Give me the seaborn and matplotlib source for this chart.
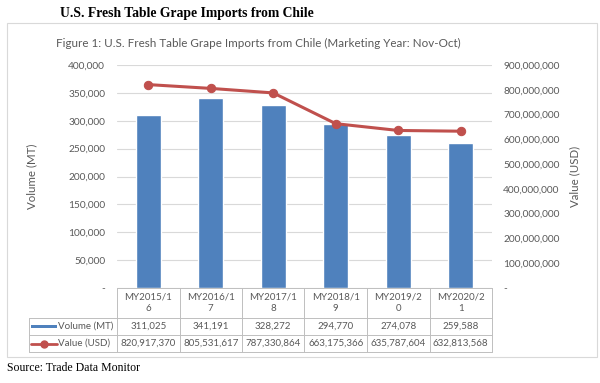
import matplotlib
matplotlib.use("Agg")
import matplotlib.pyplot as plt
import seaborn as sns
import numpy as np
import pandas as pd
from matplotlib.patches import Rectangle
from matplotlib.lines import Line2D
from matplotlib.ticker import FuncFormatter, MultipleLocator

categories = ["MY2015/16", "MY2016/17", "MY2017/18", "MY2018/19", "MY2019/20", "MY2020/21"]
volume_mt = [311025, 341191, 328272, 294770, 274078, 259588]
value_usd = [820917370, 805531617, 787330864, 663175366, 635787604, 632813568]
series_names = ["Volume (MT)", "Value (USD)"]

sns.set_theme(style="white")
plt.rcParams["font.family"] = ["Lato", "DejaVu Sans"]

W, H = 600, 383
fig = plt.figure(figsize=(6.0, 3.83), dpi=100)
fig.patch.set_facecolor("white")

def fx(x):
    return x / W

def fy(y):
    return 1 - y / H

BLUE = "#4F81BD"
RED = "#C0504D"
TXT = "#595959"
GRID = "#D9D9D9"
BORDER = "#BFBFBF"
TFS = 7.0

# chart box
fig.add_artist(Rectangle((fx(7), fy(357)), fx(597) - fx(7), fy(23) - fy(357),
                         transform=fig.transFigure, fill=False, edgecolor="#D9D9D9", lw=0.8))

# plot area
L, R, T, B = 117, 492, 65, 288
ax = fig.add_axes([fx(L), fy(B), fx(R) - fx(L), fy(T) - fy(B)])
df = pd.DataFrame({"cat": categories, "vol": volume_mt, "val": value_usd})
sns.barplot(data=df, x="cat", y="vol", color=BLUE, saturation=1, width=0.4, ax=ax)
ax.set_ylim(0, 400000)
ax.set_xlim(-0.5, len(categories) - 0.5)
ax.yaxis.set_major_locator(MultipleLocator(50000))
ax.yaxis.set_major_formatter(FuncFormatter(lambda v, p: "-" if v == 0 else f"{int(v):,}"))
ax.grid(axis="y", color=GRID, lw=0.8)
ax.set_axisbelow(True)
ax.set_xticks([])
ax.set_xlabel("")
ax.set_ylabel("Volume (MT)", color=TXT, fontsize=8.3, labelpad=22)
ax.tick_params(axis="y", length=0, pad=8.5, labelsize=7.3, labelcolor=TXT)
for s in ax.spines.values():
    s.set_visible(False)

ax2 = ax.twinx()
sns.lineplot(x=np.arange(len(categories)), y=df["val"], color=RED, lw=2.2, marker="o",
             markersize=6, markeredgecolor=RED, ax=ax2)
ax2.set_ylim(0, 900000000)
ax2.set_xlim(-0.5, len(categories) - 0.5)
ax2.yaxis.set_major_locator(MultipleLocator(100000000))
ax2.yaxis.set_major_formatter(FuncFormatter(lambda v, p: "-" if v == 0 else f"{int(v):,}"))
ax2.set_ylabel("Value (USD)", color=TXT, fontsize=8.3, labelpad=7)
ax2.tick_params(axis="y", length=0, pad=8, labelsize=7.3, labelcolor=TXT)
for s in ax2.spines.values():
    s.set_visible(False)

# titles
fig.text(fx(60), fy(14), "U.S. Fresh Table Grape Imports from Chile", fontsize=9.8,
         fontweight="bold", family="Liberation Serif", va="center", ha="left", color="black")
fig.text(fx(258), fy(43), "Figure 1: U.S. Fresh Table Grape Imports from Chile (Marketing Year: Nov-Oct)",
         fontsize=8.4, color=TXT, va="center", ha="center")
fig.text(fx(7), fy(368), "Source: Trade Data Monitor", fontsize=8.5, family="Liberation Serif",
         va="center", ha="left", color="black")

# data table
colw = (R - L) / len(categories)
y_rows = [B, 318, 335, 352]
HL = 29

def hline(x0, x1, y):
    fig.add_artist(Line2D([fx(x0), fx(x1)], [fy(y), fy(y)], transform=fig.transFigure,
                          color=BORDER, lw=0.7))

def vline(x, y0, y1):
    fig.add_artist(Line2D([fx(x), fx(x)], [fy(y0), fy(y1)], transform=fig.transFigure,
                          color=BORDER, lw=0.7))

hline(L, R, y_rows[0])
for y in y_rows[1:]:
    hline(HL, R, y)
for i in range(len(categories) + 1):
    vline(L + i * colw, y_rows[0], y_rows[3])
vline(HL, y_rows[1], y_rows[3])

for i, c in enumerate(categories):
    cx = L + (i + 0.5) * colw
    fig.text(fx(cx), fy(303), c[:8] + "\n" + c[8:], fontsize=TFS, color=TXT,
             ha="center", va="center", linespacing=1.3)
    fig.text(fx(cx), fy(326.5), f"{volume_mt[i]:,}", fontsize=TFS, color=TXT,
             ha="center", va="center")
    fig.text(fx(cx), fy(343.5), f"{value_usd[i]:,}", fontsize=TFS, color=TXT,
             ha="center", va="center")

# legend keys in header column
fig.add_artist(Rectangle((fx(31), fy(328)), fx(57) - fx(31), fy(325) - fy(328),
                         transform=fig.transFigure, color=BLUE, lw=0))
fig.text(fx(58), fy(326.5), series_names[0], fontsize=TFS, color=TXT, ha="left", va="center")
fig.add_artist(Line2D([fx(31), fx(57)], [fy(343.5), fy(343.5)], transform=fig.transFigure,
                      color=RED, lw=2))
fig.add_artist(Line2D([fx(44)], [fy(343.5)], transform=fig.transFigure,
                      color=RED, lw=0, marker="o", markersize=5))
fig.text(fx(58), fy(343.5), series_names[1], fontsize=TFS, color=TXT, ha="left", va="center")

fig.savefig("out.png", dpi=100, facecolor="white")
